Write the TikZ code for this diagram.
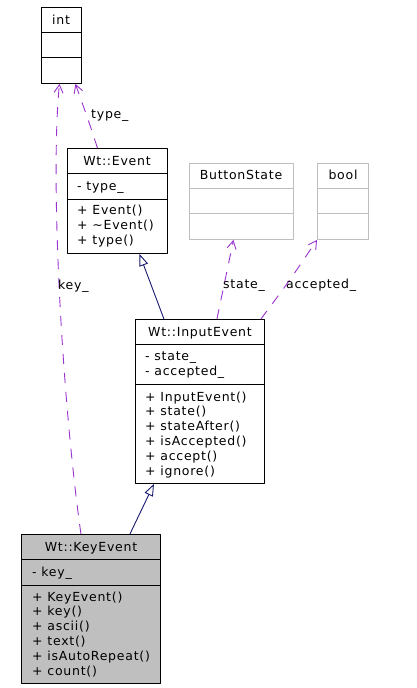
\documentclass[tikz,border=0pt]{standalone}
\usepackage{fontspec}
\newfontfamily\dxfont{DejaVu Sans}[LetterSpace=6]
\usetikzlibrary{arrows.meta,calc}

\definecolor{usecol}{HTML}{9A32CD}
\definecolor{inhcol}{HTML}{191970}
\definecolor{boxgray}{HTML}{BFBFBF}

\tikzset{
  classbox/.style={draw=black, line width=0.9pt, anchor=north west, inner sep=0pt},
  extbox/.style={classbox, draw=boxgray},
  title/.style={font=\dxfont\fontsize{12.5}{15}\selectfont, inner sep=0pt, anchor=base},
  member/.style={font=\dxfont\fontsize{12.5}{14.8}\selectfont, inner sep=0pt, align=left, anchor=base west},
  uses/.style={usecol, dash pattern=on 10pt off 9pt, line width=0.9pt, -{Straight Barb[length=8pt,width=9pt]}},
  inherits/.style={inhcol, line width=0.9pt, -{Triangle[open,fill=white,length=12pt,width=9pt]}},
  rolename/.style={font=\dxfont\fontsize{12.5}{15}\selectfont, inner sep=0pt, anchor=base west}
}

\begin{document}
\begin{tikzpicture}[x=1pt, y=-1pt, line join=round]
\useasboundingbox (0,0) rectangle (417,688);

% classes
\node[classbox, minimum width=40pt, minimum height=76pt] (int) at (41,7) {};
\node[classbox, minimum width=100pt, minimum height=105pt] (event) at (67,148) {};
\node[extbox, minimum width=104pt, minimum height=76pt] (bstate) at (189,163) {};
\node[extbox, minimum width=51pt, minimum height=76pt] (bool) at (317,163) {};
\node[classbox, minimum width=129pt, minimum height=164pt] (input) at (135,319) {};
\node[classbox, fill=boxgray, minimum width=139pt, minimum height=149pt] (key) at (21,534) {};

% compartments
\foreach \n/\a/\b/\c in {int/25/50/black, bstate/25/50/boxgray, bool/25/50/boxgray,
                          event/25/51/black, input/25/65/black, key/25/51/black} {
  \draw[line width=0.9pt, draw=\c]
    ($(\n.north west)+(0,\a)$) -- ($(\n.north east)+(0,\a)$)
    ($(\n.north west)+(0,\b)$) -- ($(\n.north east)+(0,\b)$);
}

% texts (members: base = last line)
\node[title] (int-t) at (61,24) {int};
\node[title] (event-t) at (117,165) {Wt::Event};
\node[member] (event-a) at (77,190) {- type\_};
\node[member] (event-m) at (77,244) {+ Event()\\+ \textasciitilde Event()\\+ type()};
\node[title] (bstate-t) at (241,179) {ButtonState};
\node[title] (bool-t) at (343,179) {bool};
\node[title] (input-t) at (200,336) {Wt::InputEvent};
\node[member] (input-a) at (145,375) {- state\_\\- accepted\_};
\node[member] (input-m) at (145,475) {+ InputEvent()\\+ state()\\+ stateAfter()\\+ isAccepted()\\+ accept()\\+ ignore()};
\node[title] (key-t) at (91,551) {Wt::KeyEvent};
\node[member] (key-a) at (32,576) {- key\_};
\node[member] (key-m) at (32,675) {+ KeyEvent()\\+ key()\\+ ascii()\\+ text()\\+ isAutoRepeat()\\+ count()};

% relations
\draw[uses] ([xshift=-10pt]key.north) .. controls (62,400) and (50,180) .. ([xshift=-2pt]int.south);
\draw[uses] ([xshift=-20pt]event.north) .. controls (90,125) .. ([xshift=14pt]int.south);
\draw[uses] ([xshift=17pt]input.north) -- ([xshift=-8pt]bstate.south);
\draw[uses] ([xshift=61pt]input.north) .. controls (290,280) .. (bool.south west);
\draw[inherits] ([xshift=-36pt]input.north) -- ([xshift=22pt]event.south);
\draw[inherits] ([xshift=39pt]key.north) -- ([xshift=-46pt]input.south);

% role names
\node[rolename] (key-r) at (58,289) {key\_};
\node[rolename] (type-r) at (91,118) {type\_};
\node[rolename] (state-r) at (223,288) {state\_};
\node[rolename] (acc-r) at (286,288) {accepted\_};
\end{tikzpicture}
\end{document}
